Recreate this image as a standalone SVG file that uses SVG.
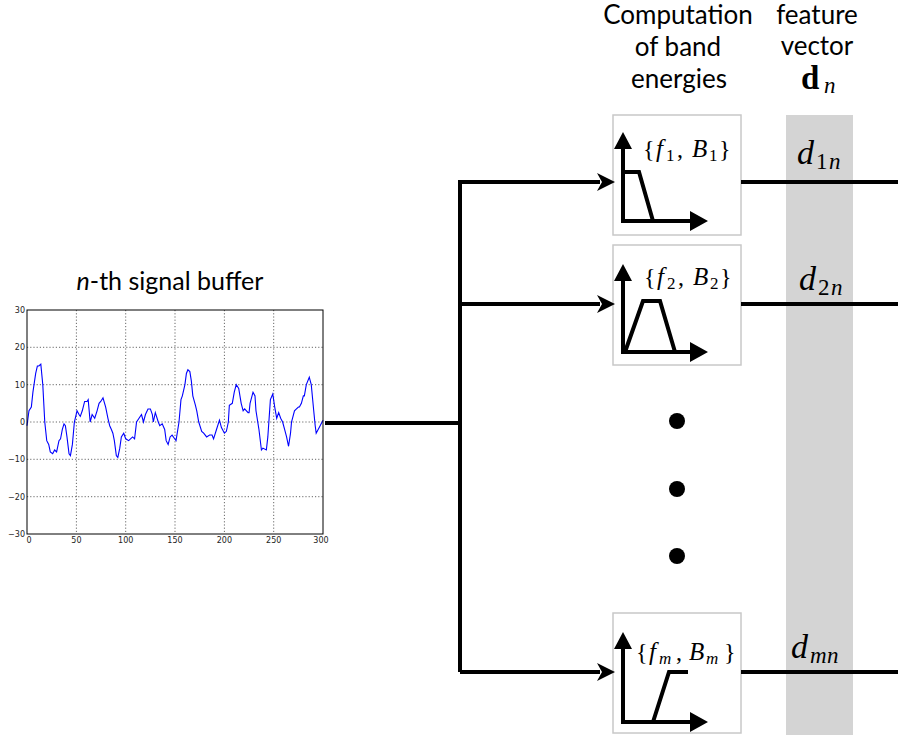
<svg xmlns="http://www.w3.org/2000/svg" width="898" height="735" viewBox="0 0 898 735">
<style>
.title{font-family:Lato,"Open Sans","DejaVu Sans",sans-serif;font-size:26px;fill:#000;text-anchor:middle}
.math{font-family:"Liberation Serif","DejaVu Serif",serif;fill:#000}
.it{font-style:italic}
.br{font-size:24px}
.sub{font-size:17px}
.tick{font-family:"DejaVu Sans",sans-serif;font-size:8px;fill:#222}
.box{fill:#fff;stroke:#c8c8c8;stroke-width:1.5}
.wire{fill:none;stroke:#000;stroke-width:4}
.inner{fill:none;stroke:#000;stroke-width:4;stroke-linejoin:miter}
.grid{stroke:#000;stroke-width:0.6;stroke-dasharray:1.2,2}
</style>
<rect x="0" y="0" width="898" height="735" fill="#fff"/>

<!-- feature vector band -->
<rect id="band" x="786" y="115" width="67" height="620" fill="#d4d4d4"/>

<!-- headers -->
<g id="header-computation">
<text class="title" x="678" y="24">Computation</text>
<text class="title" x="678" y="56">of band</text>
<text class="title" x="679" y="88">energies</text>
</g>
<g id="header-feature">
<text class="title" x="817" y="24">feature</text>
<text class="title" x="817" y="55">vector</text>
<text class="math" y="89"><tspan x="801" font-size="33" font-weight="bold">d</tspan><tspan x="824" y="93" font-size="23" class="it">n</tspan></text>
</g>

<!-- signal plot -->
<g id="signal-plot">
<text x="170" y="290" font-family="Lato,'Open Sans',sans-serif" font-size="25" text-anchor="middle"><tspan font-style="italic">n</tspan>-th signal buffer</text>
<rect x="27" y="310" width="296" height="224" fill="#fff"/>
<g class="grid">
<line x1="76.4" y1="310" x2="76.4" y2="534"/>
<line x1="125.7" y1="310" x2="125.7" y2="534"/>
<line x1="175" y1="310" x2="175" y2="534"/>
<line x1="224.4" y1="310" x2="224.4" y2="534"/>
<line x1="273.7" y1="310" x2="273.7" y2="534"/>
<line x1="27" y1="347.3" x2="323" y2="347.3"/>
<line x1="27" y1="384.7" x2="323" y2="384.7"/>
<line x1="27" y1="422" x2="323" y2="422"/>
<line x1="27" y1="459.3" x2="323" y2="459.3"/>
<line x1="27" y1="496.7" x2="323" y2="496.7"/>
</g>
<polyline fill="none" stroke="#0000ff" stroke-width="1.1" vector-effect="non-scaling-stroke" transform="translate(27,422) scale(0.987,-3.733)" points="0,-1 2,3 4.4,4 6,8 8.8,13 10.5,15 12,15 14,15.5 16,10 18,0 20,-5 22,-6 23.6,-8 26,-8.5 28,-7.5 30,-8 32.4,-5 34,-4.5 35.8,-2 37.5,-0.5 38.9,-1 40.5,-4 42.6,-8.5 44,-9 46,-6 48,0 50.7,3 52.7,2 54,1.5 56,3 58.4,5.5 60.8,5.5 62,6 64,0 66,2 68.6,1 71,3 73,5 74.7,5.5 77,6.5 79.7,4 82,1 83.8,-1 85.5,-2 87,-3 88.5,-5 90.5,-9 92,-9.5 94,-7 95.6,-4 98,-3 100,-4.5 103,-5 107,-4 109,-4.5 111,0 113.5,1 116,2 118,0 120,2 122.6,3.5 125,3.5 127,2 128,0 130,2.5 133,0 134.5,-1 137,-0.5 139.5,-2 141,-5 143,-6 145,-4 147,-3.5 149.6,-4.5 151,-5 154,0 156,6 157.4,7 160,10 161.5,13 163,14 165,13.5 166.5,11 168,7 170.6,4.5 172,3 174,0 177,-2.5 179,-3 182,-4 185,-3.5 187.5,-3.5 189,-4.5 192,-2 195,0.5 197,-1.5 200,-3 202,-2.5 204,0 205,4.5 208,5 210,8 212,10 214.5,9 217,5 219,3 220.5,3.5 224,2.5 225,2.5 226,5 229,8 231,7 232,3 235,-2 237.5,-7.5 239,-7 242.5,-7.5 244,-4 246.6,6 249,7.5 251,4 253,1 255,2.5 257,1 259,0 261,-2 263,-4 265,-6.5 267,-3 268,0 271,3 273,3.5 275,4 276,4 278,5 280,7 281,7 283,10 286,12 288,10 290.5,3 292,-1 293,-3 295,-2 297,-1 299,0 300,0.5"/>
<rect x="27" y="310" width="296" height="224" fill="none" stroke="#000" stroke-width="1"/>
<g class="tick" text-anchor="end">
<text x="25" y="313">30</text>
<text x="25" y="350">20</text>
<text x="25" y="388">10</text>
<text x="25" y="425">0</text>
<text x="25" y="462">−10</text>
<text x="25" y="500">−20</text>
<text x="25" y="537">−30</text>
</g>
<g class="tick" text-anchor="middle">
<text x="29" y="543">0</text>
<text x="76.4" y="543">50</text>
<text x="125.7" y="543">100</text>
<text x="175" y="543">150</text>
<text x="224.4" y="543">200</text>
<text x="273.7" y="543">250</text>
<text x="321" y="543">300</text>
</g>
</g>

<!-- filter boxes -->
<g id="filter-1">
<rect class="box" x="613" y="115" width="128" height="120"/>
<path class="inner" d="M623,146 V221 H690"/>
<path d="M623,132 L614,149 L632,149 Z M708,221 L690,211 L690,231 Z" fill="#000"/>
<path class="inner" d="M623,172 H639 L653,221"/>
<text class="math br" y="157"><tspan x="643">{</tspan><tspan x="656" class="it" font-size="25">f</tspan><tspan x="666" y="161" class="sub">1</tspan><tspan x="677" y="157">,</tspan><tspan x="692" class="it" font-size="25">B</tspan><tspan x="709" y="161" class="sub">1</tspan><tspan x="719" y="157">}</tspan></text>
</g>
<g id="filter-2">
<rect class="box" x="613" y="245" width="128" height="120"/>
<path class="inner" d="M623,279 V352 H690"/>
<path d="M623,264 L614,281 L632,281 Z M708,352 L690,342 L690,362 Z" fill="#000"/>
<path class="inner" d="M625,352 L643,301 H660 L675,352"/>
<text class="math br" y="285"><tspan x="644">{</tspan><tspan x="657" class="it" font-size="25">f</tspan><tspan x="667" y="289" class="sub">2</tspan><tspan x="678" y="285">,</tspan><tspan x="693" class="it" font-size="25">B</tspan><tspan x="710" y="289" class="sub">2</tspan><tspan x="720" y="285">}</tspan></text>
</g>
<g id="filter-m">
<rect class="box" x="613" y="613" width="128" height="120"/>
<path class="inner" d="M623,648 V722 H690"/>
<path d="M623,632 L614,649 L632,649 Z M708,722 L690,712 L690,732 Z" fill="#000"/>
<path class="inner" d="M653,722 L669,672 H688"/>
<text class="math br" y="660"><tspan x="636">{</tspan><tspan x="649" class="it" font-size="25">f</tspan><tspan x="659" y="664" class="sub it">m</tspan><tspan x="676" y="660">,</tspan><tspan x="689" class="it" font-size="25">B</tspan><tspan x="706" y="664" class="sub it">m</tspan><tspan x="724" y="660">}</tspan></text>
</g>

<!-- ellipsis dots -->
<g id="dots" fill="#000">
<circle cx="677" cy="421" r="8"/>
<circle cx="677" cy="489" r="8"/>
<circle cx="677" cy="556" r="8"/>
</g>

<!-- connectors -->
<g id="connectors">
<path class="wire" d="M325,423 H460"/>
<path class="wire" d="M460,672 V182"/>
<path class="wire" d="M458,182 H600"/>
<path class="wire" d="M460,304 H600"/>
<path class="wire" d="M460,672 H600"/>
<path d="M615,182 L597,173 L602,182 L597,191 Z M615,304 L597,295 L602,304 L597,313 Z M615,672 L597,663 L602,672 L597,681 Z" fill="#000"/>
<path class="wire" d="M741,182 H898"/>
<path class="wire" d="M741,304 H898"/>
<path class="wire" d="M741,672 H898"/>
</g>

<!-- feature labels -->
<g id="labels">
<text class="math" y="164"><tspan x="797" font-size="34" class="it">d</tspan><tspan x="816" y="169" font-size="23">1</tspan><tspan x="829" font-size="23" class="it">n</tspan></text>
<text class="math" y="290"><tspan x="799" font-size="34" class="it">d</tspan><tspan x="818" y="295" font-size="23">2</tspan><tspan x="831" font-size="23" class="it">n</tspan></text>
<text class="math" y="658"><tspan x="791" font-size="34" class="it">d</tspan><tspan x="810" y="663" font-size="23" class="it">m</tspan><tspan x="827" font-size="23" class="it">n</tspan></text>
</g>
</svg>
